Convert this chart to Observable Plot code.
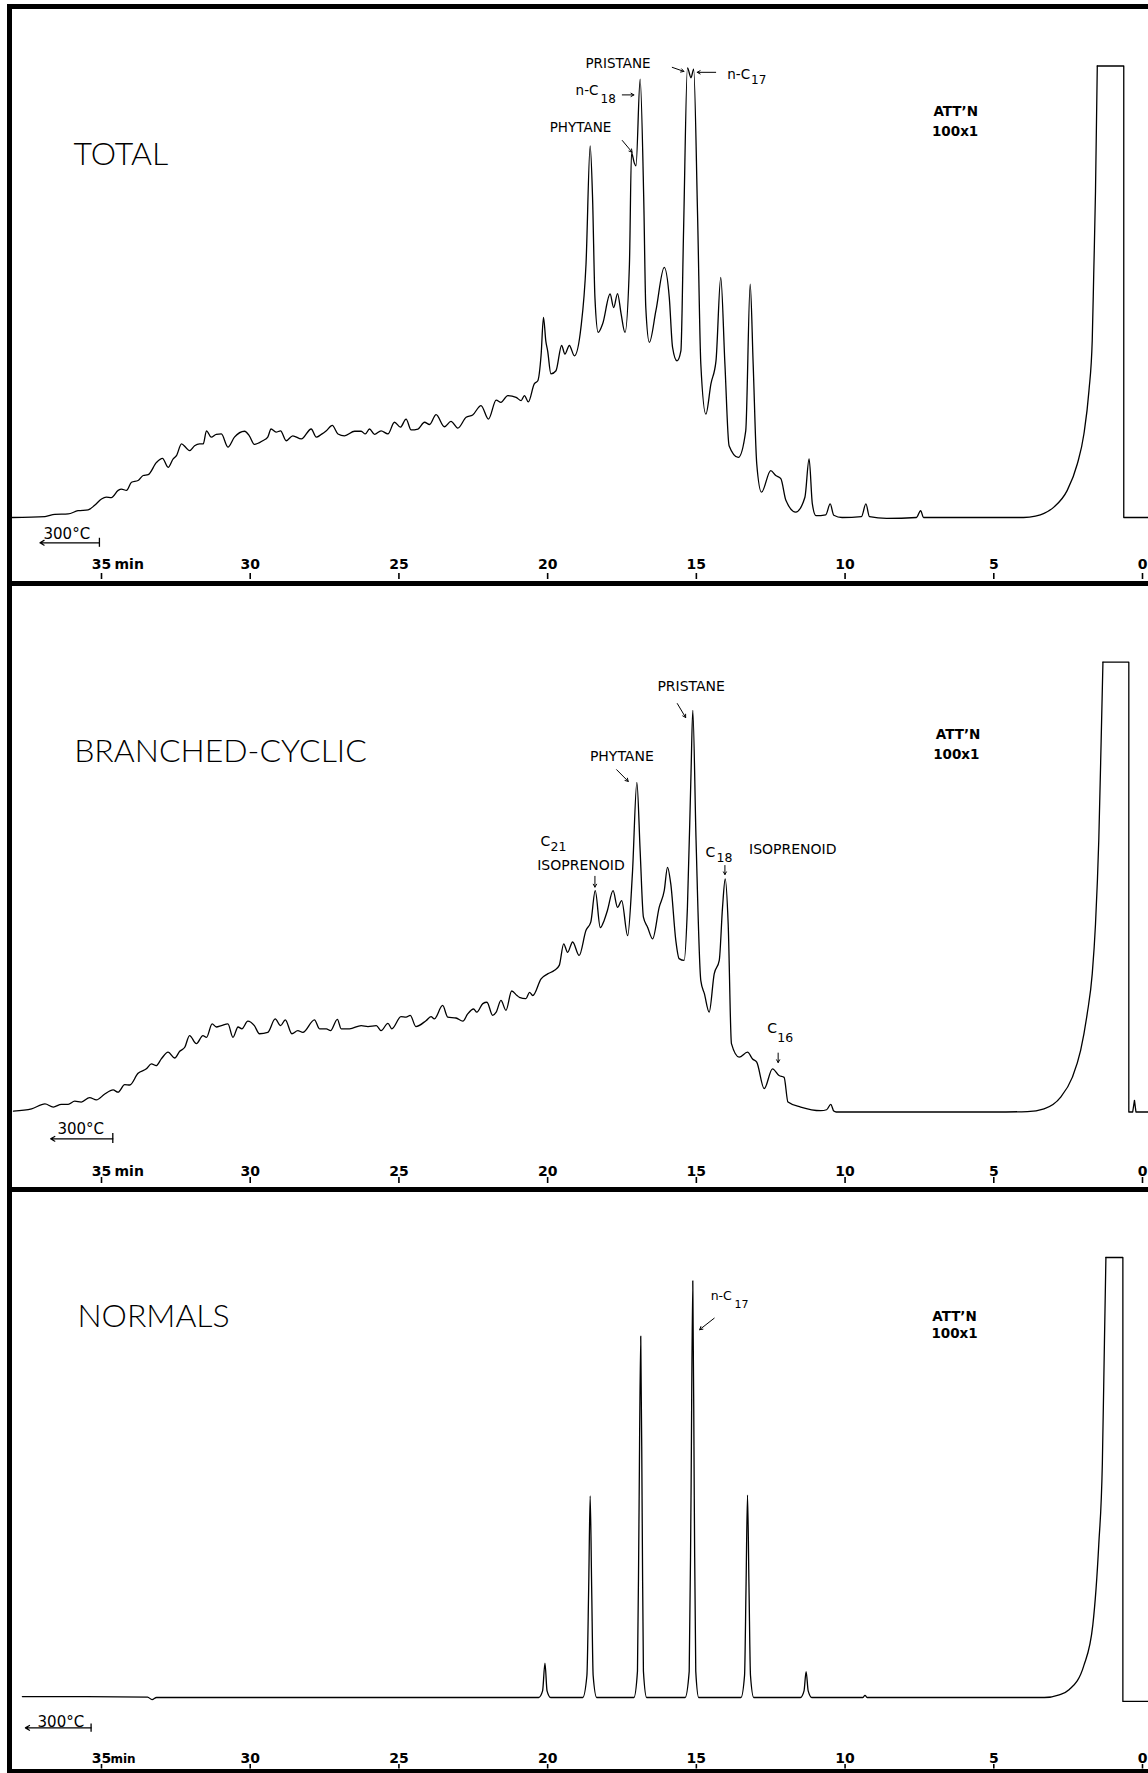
<!DOCTYPE html>
<html><head><meta charset="utf-8">
<script src="https://cdn.jsdelivr.net/npm/d3@7"></script>
<script src="https://cdn.jsdelivr.net/npm/@observablehq/plot@0.6"></script>
<style>
body{margin:0;background:#fff;}
#fig{position:relative;width:1148px;height:1773px;background:#fff;overflow:hidden;}
.bar{position:absolute;background:#000;}
.panel{position:absolute;left:12px;width:1136px;}
</style></head><body>
<div id="fig">
 <div class="bar" style="left:7px;top:4px;width:5px;height:1769px"></div>
 <div class="bar" style="left:7px;top:4px;width:1141px;height:5px"></div>
 <div class="bar" style="left:7px;top:581px;width:1141px;height:5px"></div>
 <div class="bar" style="left:7px;top:1187px;width:1141px;height:5px"></div>
 <div class="bar" style="left:7px;top:1769px;width:1141px;height:4px"></div>
 <div class="panel" id="p1" style="top:9px"></div>
 <div class="panel" id="p2" style="top:586px"></div>
 <div class="panel" id="p3" style="top:1192px"></div>
</div>
<script>
// ---------- data (retention time in minutes, detector signal in % of full scale) ----------
const timeTicks = [35, 30, 25, 20, 15, 10, 5, 0];
const timeUnit = "min";
const panelTitles = ["TOTAL", "BRANCHED-CYCLIC", "NORMALS"];
const attenuation = ["ATT\u2019N", "100x1"];
const tempLabel = "300°C";

const totalTrace = [[38.0,0],[36.9,0.2],[36.57,0.7],[36.12,0.8],[35.79,1.5],[35.45,1.7],[35.23,2.7],[35.0,4.1],[34.84,4.5],[34.67,4.4],[34.44,6.0],[34.33,6.3],[34.16,6.0],[33.99,7.8],[33.77,8.2],[33.6,9.3],[33.43,9.5],[33.15,12.2],[32.95,13.1],[32.76,11.1],[32.59,13.0],[32.48,13.7],[32.31,16.3],[32.15,15.4],[32.04,14.8],[31.87,15.9],[31.7,16.3],[31.58,16.3],[31.47,19.2],[31.31,17.8],[31.14,18.4],[30.97,18.5],[30.75,15.6],[30.53,17.8],[30.19,19.1],[30.03,18.1],[29.86,16.2],[29.58,17.0],[29.41,17.8],[29.3,19.6],[29.13,18.9],[28.98,19.2],[28.79,17.0],[28.57,18.1],[28.28,17.4],[27.95,19.6],[27.78,17.8],[27.61,18.4],[27.44,19.2],[27.24,20.4],[27.05,18.5],[26.83,18.1],[26.49,19.1],[26.27,19.1],[26.13,18.5],[25.99,19.6],[25.82,18.4],[25.6,19.2],[25.37,18.5],[25.15,21.1],[24.95,20.0],[24.76,21.8],[24.59,19.4],[24.36,19.6],[24.14,21.1],[23.97,20.6],[23.75,22.8],[23.47,20.1],[23.25,21.3],[23.02,19.8],[22.74,22.2],[22.52,22.7],[22.24,24.8],[21.99,21.8],[21.73,26.0],[21.57,25.5],[21.34,27.0],[21.06,26.6],[20.89,25.9],[20.78,27.0],[20.65,25.6],[20.45,29.6],[20.33,30.3],[20.22,36.0],[20.14,44.3],[20.06,39.0],[20.0,36.9],[19.89,31.8],[19.72,32.5],[19.53,38.1],[19.42,36.2],[19.27,38.1],[19.1,35.8],[18.88,42.1],[18.71,56.1],[18.57,82.3],[18.49,70.9],[18.41,48.7],[18.3,41.0],[18.15,42.9],[17.9,49.5],[17.78,46.5],[17.65,49.6],[17.53,45.1],[17.4,41.0],[17.25,56.1],[17.18,80.8],[17.09,78.6],[17.03,77.9],[16.89,97.1],[16.77,70.9],[16.7,46.5],[16.58,38.8],[16.36,45.8],[16.08,55.4],[15.91,48.7],[15.8,37.7],[15.65,34.7],[15.52,36.9],[15.43,63.5],[15.3,99.6],[15.18,97.4],[15.09,99.3],[14.96,67.2],[14.85,34.0],[14.68,22.9],[14.51,29.6],[14.34,34.7],[14.18,53.2],[14.04,34.0],[13.9,15.9],[13.59,13.3],[13.34,19.2],[13.19,51.7],[13.09,34.0],[12.97,11.9],[12.81,5.6],[12.5,10.4],[12.33,9.3],[12.16,8.6],[11.99,3.8],[11.66,1.2],[11.35,4.5],[11.21,13.0],[11.1,3.0],[10.98,0.4],[10.65,0.6],[10.5,3.0],[10.38,0.5],[10.1,0],[9.45,0.2],[9.3,3.0],[9.18,0.2],[8.6,-0.2],[7.6,0],[7.46,1.5],[7.36,0],[5.0,0],[4.0,0],[3.6,0.3],[3.31,0.9],[2.98,2.3],[2.53,6.0],[2.19,11.9],[1.97,18.5],[1.8,28.1],[1.69,39.2],[1.64,53.9],[1.58,72.3],[1.52,100]];
const totalSolvent = [[1.52,100],[0.63,100],[0.63,0],[-0.2,0]];

const branchedTrace = [[37.96,0.2],[37.35,0.7],[36.9,1.8],[36.62,1.1],[36.35,1.7],[36.12,1.7],[35.9,2.4],[35.68,2.2],[35.4,3.2],[35.17,2.7],[34.89,4.0],[34.61,4.9],[34.44,4.4],[34.22,6.1],[34.05,6.0],[33.77,8.6],[33.49,9.6],[33.32,10.7],[33.16,10.3],[32.99,11.8],[32.76,13.3],[32.54,12.0],[32.37,13.5],[32.2,14.4],[32.04,17.0],[31.81,15.2],[31.59,17.0],[31.47,16.6],[31.28,19.6],[31.14,18.9],[30.97,19.2],[30.75,19.6],[30.58,16.6],[30.41,18.9],[30.28,18.5],[30.08,20.2],[29.86,19.2],[29.69,17.4],[29.41,17.7],[29.16,20.7],[28.98,19.2],[28.82,20.5],[28.6,17.4],[28.4,18.1],[28.23,17.7],[27.84,20.5],[27.67,18.5],[27.44,18.5],[27.3,18.1],[27.07,20.6],[26.94,18.5],[26.66,18.5],[26.27,19.2],[26.04,19.0],[25.76,19.2],[25.6,18.1],[25.37,19.7],[25.24,18.5],[24.93,21.2],[24.76,21.1],[24.62,21.5],[24.43,19.0],[24.09,20.3],[23.92,21.2],[23.81,20.7],[23.53,23.7],[23.36,21.1],[23.08,20.9],[22.85,20.2],[22.69,21.8],[22.49,22.9],[22.38,22.2],[22.18,24.1],[22.04,24.4],[21.85,21.5],[21.73,22.2],[21.57,24.8],[21.4,22.6],[21.21,26.9],[21.03,25.9],[20.95,25.5],[20.73,25.2],[20.61,26.6],[20.5,25.9],[20.22,29.6],[20.0,30.7],[19.77,31.5],[19.61,32.6],[19.46,37.4],[19.33,35.5],[19.16,37.8],[18.94,34.8],[18.71,40.4],[18.55,42.2],[18.4,49.2],[18.23,41.0],[18.1,42.6],[17.99,44.8],[17.8,49.2],[17.65,45.5],[17.51,47.0],[17.31,39.2],[17.15,53.0],[17.0,73.3],[16.89,58.1],[16.78,43.3],[16.64,41.1],[16.47,38.5],[16.25,45.5],[16.08,49.2],[15.97,54.4],[15.86,50.7],[15.69,38.1],[15.58,34.1],[15.41,33.7],[15.3,45.5],[15.18,75.2],[15.12,89.3],[15.01,60.4],[14.85,29.2],[14.73,26.3],[14.57,22.2],[14.4,30.7],[14.23,33.7],[14.12,45.5],[14.03,51.8],[13.93,41.8],[13.82,15.2],[13.56,12.2],[13.28,13.3],[13.11,11.8],[12.97,11.1],[12.72,5.2],[12.44,9.6],[12.22,8.1],[12.05,7.7],[11.92,2.2],[11.49,1.1],[10.82,0.3],[10.62,0.5],[10.48,1.7],[10.38,0.2],[10.3,0],[5.0,0],[3.87,0.1],[3.31,0.7],[2.75,3.3],[2.36,7.7],[2.08,13.7],[1.86,21.8],[1.69,30.7],[1.58,41.8],[1.47,60.4],[1.39,82.6],[1.33,100]];
const branchedSolvent = [[1.33,100],[0.46,100],[0.46,0],[0.33,0],[0.27,2.6],[0.22,0],[-0.2,0]];

const normalsTrace = [[37.66,0.2],[35.5,0.2],[33.45,0.1],[33.3,-0.5],[33.15,0],[25.0,0],[20.3,0],[20.17,1.5],[20.09,7.8],[20.02,1.5],[19.9,0],[18.82,0],[18.68,5],[18.62,25],[18.57,45.8],[18.52,25],[18.47,5],[18.35,0],[17.1,0],[16.98,6],[16.93,40],[16.87,82.1],[16.82,40],[16.78,6],[16.67,0],[15.38,0],[15.24,6],[15.18,45],[15.12,94.7],[15.07,45],[15.02,6],[14.92,0],[13.5,0],[13.38,5],[13.33,25],[13.28,46.0],[13.23,25],[13.18,5],[13.07,0],[11.5,0],[11.38,1.5],[11.31,5.9],[11.24,1.5],[11.12,0],[9.4,0],[9.33,0.5],[9.26,0],[3.3,0],[2.8,0.6],[2.46,1.8],[1.97,7.3],[1.67,16.5],[1.47,34.8],[1.35,53.2],[1.28,80.7],[1.23,100]];
const normalsSolvent = [[1.23,100],[0.66,100],[0.66,-0.9],[-0.2,-0.9]];

// annotation anchors (time, signal)
const titleAnchors = [{t:35.94,s:78.0},{t:35.92,s:77.9},{t:35.81,s:84.3}];
const attAnchors = [
  [{t:6.28,s:89.0},{t:6.30,s:84.4}],
  [{t:6.20,s:83.0},{t:6.26,s:78.5}],
  [{t:6.32,s:85.6},{t:6.32,s:81.6}]
];
const totalLabels = [{t:18.73,s:99.6,label:"PRISTANE"},{t:19.93,s:85.3,label:"PHYTANE"},{t:19.06,s:93.5,label:"n-C"},{t:13.96,s:97.2,label:"n-C"}];
const totalSubs = [{t:18.22,s:91.9,label:"18"},{t:13.16,s:96.1,label:"17"}];
const totalArrows = [{t1:15.81,s1:99.7,t2:15.42,s2:98.8},{t1:14.35,s1:98.6,t2:14.97,s2:98.6},{t1:17.49,s1:93.6,t2:17.10,s2:93.6},{t1:17.49,s1:83.5,t2:17.16,s2:80.9}];

const branchedLabels = [{t:16.31,s:93.7,label:"PRISTANE"},{t:18.58,s:78.1,label:"PHYTANE"},{t:20.24,s:59.2,label:"C"},{t:20.35,s:53.8,label:"ISOPRENOID"},{t:14.69,s:56.6,label:"C"},{t:13.23,s:57.4,label:"ISOPRENOID"},{t:12.62,s:17.5,label:"C"}];
const branchedSubs = [{t:19.90,s:58.1,label:"21"},{t:14.32,s:55.5,label:"18"},{t:12.28,s:15.5,label:"16"}];
const branchedArrows = [{t1:15.64,s1:90.8,t2:15.36,s2:87.7},{t1:17.68,s1:76.1,t2:17.29,s2:73.5},{t1:18.41,s1:52.4,t2:18.41,s2:50.0},{t1:14.04,s1:54.8,t2:14.04,s2:52.8},{t1:12.25,s1:13.1,t2:12.25,s2:11.0}];

const normalsLabels = [{t:14.52,s:90.3,label:"n-C"}];
const normalsSubs = [{t:13.72,s:88.5,label:"17"}];
const normalsArrows = [{t1:14.40,s1:86.2,t2:14.89,s2:83.6}];

const tempMarks = [
  {textT:36.95,textS:-4.7,t1:35.07,t2:37.07,s:-5.6,tickS1:-4.6,tickS2:-6.6},
  {textT:36.48,textS:-4.85,t1:34.62,t2:36.71,s:-5.96,tickS1:-4.8,tickS2:-7.0},
  {textT:37.15,textS:-6.6,t1:35.35,t2:37.56,s:-6.9,tickS1:-6.0,tickS2:-7.9}
];

// ---------- drawing ----------
const SANS = "'DejaVu Sans', sans-serif";
const TITLE = "Lato, 'Noto Sans', sans-serif";

function panel(cfg) {
  const P = (d) => d[0], S = (d) => d[1];
  return Plot.plot({
    width: 1136, height: cfg.height,
    marginTop: 0, marginRight: 0, marginLeft: 0, marginBottom: cfg.marginBottom,
    style: {background: "white", color: "black", fontFamily: SANS, overflow: "visible"},
    x: {domain: [35, 0], range: [89, 1130]},
    y: {domain: [0, 100], range: cfg.yRange, axis: null},
    marks: [
      Plot.line(cfg.trace, {x: P, y: S, curve: "monotone-x", stroke: "black", strokeWidth: 1.3, strokeLinejoin: "round"}),
      Plot.line(cfg.solvent, {x: P, y: S, curve: "linear", stroke: "black", strokeWidth: 1.3}),
      Plot.text([cfg.titleAnchor], {x: "t", y: "s", text: () => cfg.title, textAnchor: "start", lineAnchor: "bottom", fontSize: 32, fontWeight: 300, fontFamily: TITLE}),
      Plot.text(cfg.att, {x: "t", y: "s", text: (d, i) => attenuation[i], textAnchor: "middle", lineAnchor: "bottom", fontSize: 13.5, fontWeight: "bold"}),
      Plot.text(cfg.labels, {x: "t", y: "s", text: "label", textAnchor: "start", lineAnchor: "bottom", fontSize: cfg.labelSize}),
      Plot.text(cfg.subs, {x: "t", y: "s", text: "label", textAnchor: "start", lineAnchor: "bottom", fontSize: cfg.subSize}),
      Plot.arrow(cfg.arrows, {x1: "t1", y1: "s1", x2: "t2", y2: "s2", stroke: "black", strokeWidth: 1, headLength: 5}),
      Plot.text([cfg.temp], {x: "textT", y: "textS", text: () => tempLabel, textAnchor: "start", lineAnchor: "bottom", fontSize: 15}),
      Plot.arrow([cfg.temp], {x1: "t1", y1: "s", x2: "t2", y2: "s", stroke: "black", strokeWidth: 1.2, headLength: 6}),
      Plot.ruleX([cfg.temp], {x: "t1", y1: "tickS1", y2: "tickS2", stroke: "black", strokeWidth: 1.3}),
      Plot.axisX(timeTicks, {anchor: "bottom", tickSize: cfg.tickSize, tickFormat: () => "", strokeWidth: 1.6, label: null}),
      Plot.text(timeTicks, {x: (d) => d, text: (d) => String(d), frameAnchor: "bottom", lineAnchor: "bottom", dy: cfg.labelDy, fontSize: 14, fontWeight: "bold"}),
      Plot.text([timeUnit], {x: () => timeTicks[0], text: (d) => d, frameAnchor: "bottom", lineAnchor: "bottom", textAnchor: "start", dx: cfg.unitDx, dy: cfg.labelDy, fontSize: cfg.unitSize, fontWeight: "bold"})
    ]
  });
}

document.getElementById("p1").append(panel({
  height: 572, marginBottom: 8, yRange: [508, 56.5], tickSize: 6, labelDy: -5, unitDx: 13, unitSize: 14,
  trace: totalTrace, solvent: totalSolvent, title: panelTitles[0], titleAnchor: titleAnchors[0], att: attAnchors[0],
  labels: totalLabels, subs: totalSubs, arrows: totalArrows, temp: tempMarks[0], labelSize: 13.5, subSize: 12
}));
document.getElementById("p2").append(panel({
  height: 601, marginBottom: 10, yRange: [525.5, 75.7], tickSize: 6, labelDy: -2, unitDx: 13, unitSize: 14,
  trace: branchedTrace, solvent: branchedSolvent, title: panelTitles[1], titleAnchor: titleAnchors[1], att: attAnchors[1],
  labels: branchedLabels, subs: branchedSubs, arrows: branchedArrows, temp: tempMarks[1], labelSize: 14, subSize: 12.5
}));
document.getElementById("p3").append(panel({
  height: 577, marginBottom: 5, yRange: [505, 65], tickSize: 4.5, labelDy: -2, unitDx: 9, unitSize: 12,
  trace: normalsTrace, solvent: normalsSolvent, title: panelTitles[2], titleAnchor: titleAnchors[2], att: attAnchors[2],
  labels: normalsLabels, subs: normalsSubs, arrows: normalsArrows, temp: tempMarks[2], labelSize: 12.5, subSize: 11
}));
</script>
</body></html>
